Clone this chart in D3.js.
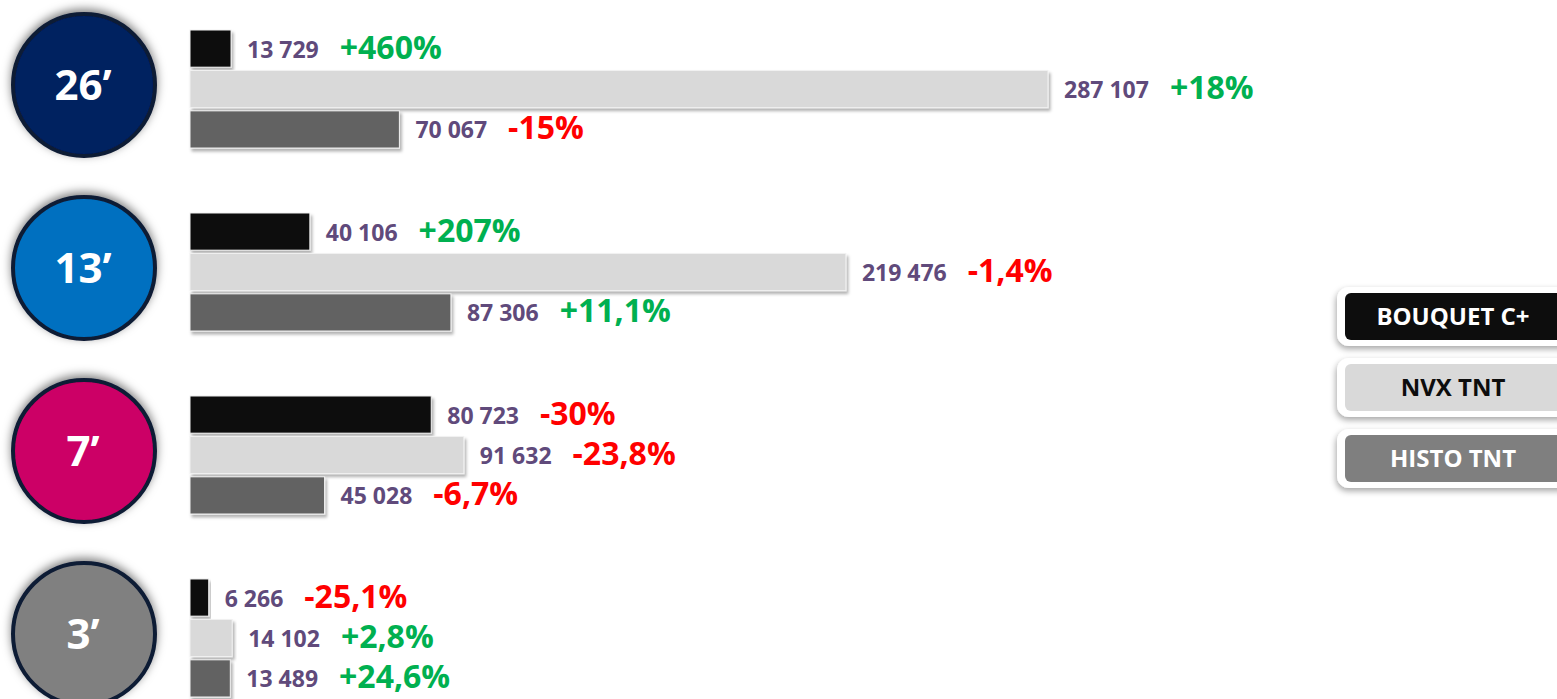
<!doctype html>
<html>
<head>
<meta charset="utf-8">
<script src="https://d3js.org/d3.v7.min.js"></script>
<style>
  body { margin: 0; background: #fff; }
  svg { display: block; font-family: "Open Sans", "Noto Sans", sans-serif; font-weight: bold; }
</style>
</head>
<body>
<svg width="1557" height="699"></svg>
<script>
// durations (circles) and legend entries
var groups = ["26\u2019", "13\u2019", "7\u2019", "3\u2019"];
var series = ["BOUQUET C+", "NVX TNT", "HISTO TNT"];

// values per series, one per duration
var bouquet = [13729, 40106, 80723, 6266];
var nvxTnt = [287107, 219476, 91632, 14102];
var histoTnt = [70067, 87306, 45028, 13489];

// evolution in %
var bouquetChg = [460, 207, -30, -25.1];
var nvxChg = [18, -1.4, -23.8, 2.8];
var histoChg = [-15, 11.1, -6.7, 24.6];

var values = [bouquet, nvxTnt, histoTnt];
var changes = [bouquetChg, nvxChg, histoChg];

var svg = d3.select("svg");

// french number format : 13 729 / +11,1
var fr = d3.formatLocale({decimal: ",", thousands: " ", grouping: [3], currency: ["", " €"], minus: "-"});
var fmtVal = fr.format(",d");
var fmtPct = fr.format("+~g");

var barColor = d3.scaleOrdinal().domain(series).range(["#0d0d0d", "#d9d9d9", "#626262"]);
var legendFill = d3.scaleOrdinal().domain(series).range(["#0d0d0d", "#d9d9d9", "#7f7f7f"]);
var legendText = d3.scaleOrdinal().domain(series).range(["#ffffff", "#0d0d0d", "#ffffff"]);
var circleColor = d3.scaleOrdinal().domain(groups).range(["#002060", "#0070c0", "#cc0066", "#808080"]);

var x = d3.scaleLinear().domain([0, d3.max(nvxTnt)]).range([190, 1048]);
var y0 = d3.scaleBand().domain(groups).range([30, 697]).paddingInner(0.355);
var y1 = d3.scaleBand().domain(series).range([0, y0.bandwidth()]).paddingInner(0.08);

// shadows
var defs = svg.append("defs");
defs.append("filter").attr("id", "barShadow")
    .attr("x", "-5%").attr("y", "-20%").attr("width", "115%").attr("height", "160%")
  .append("feDropShadow")
    .attr("dx", 2).attr("dy", 3).attr("stdDeviation", 1.8)
    .attr("flood-color", "#000").attr("flood-opacity", 0.3);
defs.append("filter").attr("id", "circleShadow")
    .attr("x", "-30%").attr("y", "-30%").attr("width", "160%").attr("height", "160%")
  .append("feDropShadow")
    .attr("dx", 0).attr("dy", -3).attr("stdDeviation", 5)
    .attr("flood-color", "#000").attr("flood-opacity", 0.5);
defs.append("filter").attr("id", "legendShadow")
    .attr("x", "-20%").attr("y", "-30%").attr("width", "140%").attr("height", "170%")
  .append("feDropShadow")
    .attr("dx", -1).attr("dy", 3).attr("stdDeviation", 3)
    .attr("flood-color", "#000").attr("flood-opacity", 0.35);

// rows : one object per bar
var rows = [];
groups.forEach(function(g, gi) {
    series.forEach(function(s, si) {
        rows.push({group: g, serie: s, value: values[si][gi], change: changes[si][gi]});
    });
});

// duration circles
var circ = svg.selectAll(".dur")
    .data(groups)
    .enter().append("g")
    .attr("class", "dur")
    .attr("transform", function(d) { return "translate(84," + (y0(d) + 55) + ")"; });

circ.append("circle")
    .attr("r", 71)
    .attr("fill", function(d) { return circleColor(d); })
    .attr("stroke", "#0e1b34")
    .attr("stroke-width", 4)
    .attr("filter", "url(#circleShadow)");

circ.append("text")
    .attr("text-anchor", "middle")
    .attr("x", -1)
    .attr("y", 15)
    .attr("fill", "#fff")
    .style("font-size", "42px")
    .text(function(d) { return d; });

// bars
var bar = svg.selectAll(".bar")
    .data(rows)
    .enter().append("g")
    .attr("class", "bar")
    .attr("transform", function(d) { return "translate(0," + (y0(d.group) + y1(d.serie)) + ")"; });

bar.append("rect")
    .attr("x", x(0))
    .attr("y", 0)
    .attr("width", function(d) { return x(d.value) - x(0); })
    .attr("height", y1.bandwidth())
    .attr("fill", function(d) { return barColor(d.serie); })
    .attr("stroke", "#f2f2f2")
    .attr("stroke-width", 1)
    .attr("filter", "url(#barShadow)");

var mid = y1.bandwidth() / 2;

bar.append("text")
    .attr("class", "val")
    .attr("x", function(d) { return x(d.value) + 16; })
    .attr("y", mid + 9)
    .attr("fill", "#604a7b")
    .style("font-size", "23px")
    .text(function(d) { return fmtVal(d.value); });

bar.append("text")
    .attr("class", "pct")
    .attr("x", function(d) {
        var w = this.parentNode.querySelector(".val").getComputedTextLength();
        return x(d.value) + 16 + w + 21;
    })
    .attr("y", mid + 10)
    .attr("fill", function(d) { return d.change < 0 ? "#ff0000" : "#00b050"; })
    .style("font-size", "32px")
    .text(function(d) { return fmtPct(d.change) + "%"; });

// legend
var leg = svg.selectAll(".leg")
    .data(series)
    .enter().append("g")
    .attr("class", "leg")
    .attr("transform", function(d, i) { return "translate(1337," + (287 + i * 71) + ")"; });

leg.append("rect")
    .attr("width", 240).attr("height", 59)
    .attr("rx", 12)
    .attr("fill", "#fff")
    .attr("filter", "url(#legendShadow)");

leg.append("rect")
    .attr("x", 8).attr("y", 6)
    .attr("width", 224).attr("height", 47)
    .attr("rx", 6)
    .attr("fill", function(d) { return legendFill(d); });

leg.append("text")
    .attr("text-anchor", "middle")
    .attr("x", 116)
    .attr("y", 38)
    .attr("fill", function(d) { return legendText(d); })
    .style("font-size", "24px")
    .text(function(d) { return d; });
</script>
</body>
</html>
